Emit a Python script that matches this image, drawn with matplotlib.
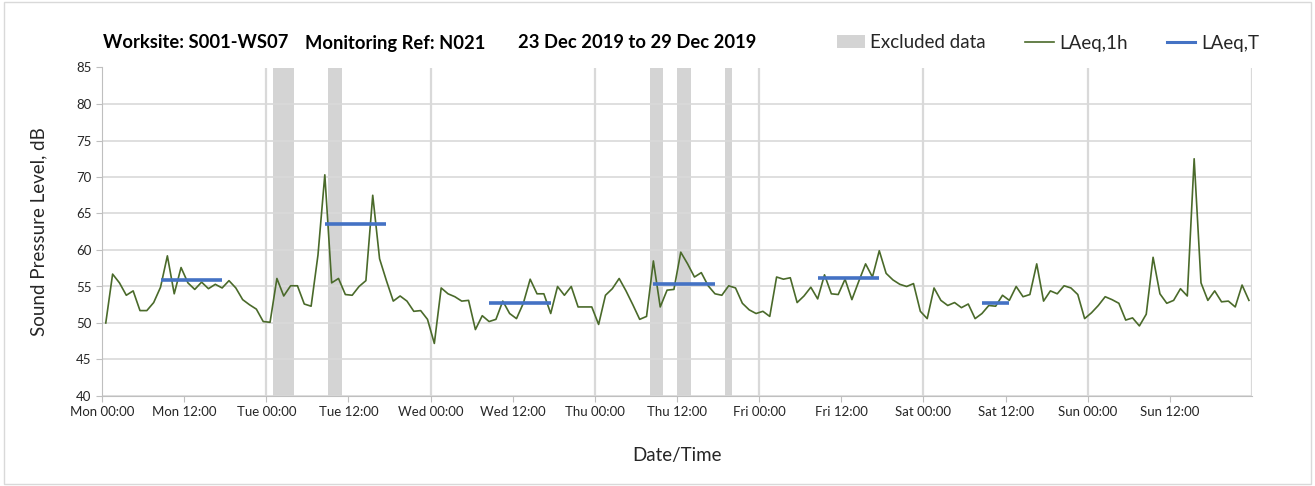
import numpy as np
import matplotlib
matplotlib.use("Agg")
import matplotlib.pyplot as plt
from matplotlib.patches import Patch, Rectangle
from matplotlib.lines import Line2D

# ---------------- data ----------------
laeq_1h = [
    50.0, 56.7, 55.5, 53.8, 54.4, 51.7, 51.7, 52.8, 54.9, 59.2,
    54.0, 57.6, 55.5, 54.6, 55.6, 54.7, 55.3, 54.8, 55.8, 54.8,
    53.2, 52.5, 51.9, 50.2, 50.1, 56.1, 53.7, 55.1, 55.1, 52.6,
    52.3, 59.3, 70.3, 55.5, 56.1, 53.9, 53.8, 55.0, 55.8, 67.5,
    58.8, 55.8, 53.0, 53.7, 53.0, 51.6, 51.7, 50.5, 47.2, 54.8,
    54.0, 53.6, 53.0, 53.1, 49.1, 51.0, 50.2, 50.5, 53.0, 51.3,
    50.6, 52.7, 56.0, 54.0, 54.0, 51.3, 55.0, 53.8, 55.0, 52.2,
    52.2, 52.2, 49.8, 53.8, 54.7, 56.1, 54.4, 52.5, 50.5, 50.9,
    58.5, 52.2, 54.5, 54.6, 59.7, 58.1, 56.3, 56.9, 55.1, 54.0,
    53.8, 55.1, 54.8, 52.7, 51.8, 51.3, 51.6, 50.9, 56.3, 56.0,
    56.2, 52.8, 53.7, 54.9, 53.3, 56.6, 54.0, 53.9, 56.0, 53.2,
    55.7, 58.1, 56.3, 59.9, 56.8, 55.9, 55.3, 55.0, 55.4, 51.6,
    50.6, 54.8, 53.1, 52.4, 52.8, 52.1, 52.6, 50.6, 51.3, 52.4,
    52.3, 53.8, 53.1, 55.0, 53.6, 53.9, 58.1, 53.0, 54.4, 54.0,
    55.1, 54.8, 53.9, 50.6, 51.4, 52.4, 53.6, 53.2, 52.7, 50.4,
    50.7, 49.6, 51.2, 59.0, 54.0, 52.7, 53.1, 54.7, 53.7, 72.5,
    55.5, 53.1, 54.4, 52.9, 53.0, 52.2, 55.2, 53.1,
]
hour_index = np.arange(len(laeq_1h))

# excluded periods (hours from Mon 00:00)
excl_start = [25, 33, 80, 84, 91]
excl_end = [28, 35, 82, 86, 92]

# LAeq,T periods (hour indices of first and last hourly value) and levels
period_first = [8, 32, 56, 80, 104, 128]
period_last = [17, 41, 65, 89, 113, 132]
laeq_T = [55.9, 63.6, 52.8, 55.4, 56.2, 52.7]

tick_labels = ["Mon 00:00", "Mon 12:00", "Tue 00:00", "Tue 12:00",
               "Wed 00:00", "Wed 12:00", "Thu 00:00", "Thu 12:00",
               "Fri 00:00", "Fri 12:00", "Sat 00:00", "Sat 12:00",
               "Sun 00:00", "Sun 12:00"]
tick_hours = [12 * i for i in range(len(tick_labels))]
y_ticks = [40, 45, 50, 55, 60, 65, 70, 75, 80, 85]

title_parts = ["Worksite: S001-WS07", "Monitoring Ref: N021",
               "23 Dec 2019 to 29 Dec 2019"]

# ---------------- style ----------------
plt.rcParams['font.family'] = ['Lato', 'DejaVu Sans']
GREEN = '#4a6a2a'
BLUE = '#4472c4'
BAND = '#d4d4d4'
GRID = '#d9d9d9'
TXT = '#262626'

W, H = 1315, 486
fig = plt.figure(figsize=(W / 100, H / 100), dpi=100)
fig.patches.append(Rectangle((0.003, 0.004), 0.994, 0.992, transform=fig.transFigure,
                             fill=False, edgecolor='#d9d9d9', lw=1))

ax = fig.add_axes([102 / W, 1 - 396 / H, 1150 / W, 328.5 / H])
ax.set_xlim(0, 168)
ax.set_ylim(40, 85)

offset = 0.55
for s, e in zip(excl_start, excl_end):
    ax.axvspan(s, e, color=BAND, lw=0, zorder=0.2)

ax.set_axisbelow(True)
ax.set_yticks(y_ticks)
ax.yaxis.grid(True, color=GRID, lw=1.2)
for d in range(24, 169, 24):
    ax.axvline(d, color=GRID, lw=1.6, zorder=0.5)

ax.plot(hour_index + offset, laeq_1h, color=GREEN, lw=1.2, zorder=3)
for f, l, v in zip(period_first, period_last, laeq_T):
    ax.plot([f + offset, l + offset], [v, v], color=BLUE, lw=2.6,
            solid_capstyle='butt', zorder=4)

ax.set_xticks(tick_hours)
ax.set_xticklabels(tick_labels)
ax.tick_params(axis='both', which='both', direction='out', length=4,
               color='#bfbfbf', labelsize=9.5, labelcolor=TXT)
ax.tick_params(axis='x', pad=3)
for side in ['top', 'right']:
    ax.spines[side].set_visible(False)
for side in ['left', 'bottom']:
    ax.spines[side].set_color('#bfbfbf')

ax.set_ylabel("Sound Pressure Level, dB", fontsize=13.5, color=TXT, labelpad=21)
ax.set_xlabel("Date/Time", fontsize=13.5, color=TXT, labelpad=21)

# title
title_x = [103, 305, 518]
for txt, x in zip(title_parts, title_x):
    fig.text(x / W, 1 - 43 / H, txt, fontsize=13.2, fontweight='bold',
             color='black', ha='left', va='center')

# legend
handles = [Patch(facecolor=BAND, edgecolor='none'),
           Line2D([], [], color=GREEN, lw=1.2),
           Line2D([], [], color=BLUE, lw=2.2)]
fig.legend(handles, ["Excluded data", "LAeq,1h", "LAeq,T"], ncol=3,
           loc='center right', bbox_to_anchor=(1272 / W, 1 - 43 / H),
           frameon=False, fontsize=13.5, handlelength=1.5, handletextpad=0.3,
           columnspacing=2.1, labelcolor=TXT, borderpad=0.2)

fig.savefig("out.png", dpi=100)
